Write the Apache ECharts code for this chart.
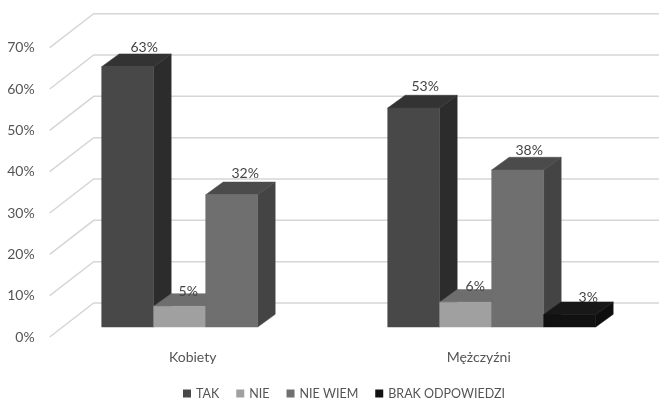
<!DOCTYPE html>
<html><head><meta charset="utf-8">
<style>html,body{margin:0;padding:0;background:#fff}#c{width:659px;height:399px;filter:blur(0.45px)}</style>
<script src="https://cdn.jsdelivr.net/npm/echarts@6/dist/echarts.min.js"></script>
</head><body><div id="c"></div>
<script>
const categories = ['Kobiety', 'Mężczyźni'];
const tickValues = [0, 10, 20, 30, 40, 50, 60, 70];
const tak = [63, 53];
const nie = [5, 6];
const nieWiem = [32, 38];
const brak = [null, 3];

const FONT = 'Lato';
const TEXT = '#555';
const WALL = [44, -34], PLANE = [13, -10], DEPTH = [17.5, -12.7];
const BAR_RATIO = 52 / 286;
const shades = [
  { name: 'TAK', values: tak, front: '#484848', top: '#333333', side: '#2c2c2c', nudge: [[16.5, -19.3], [11.5, -21.3]] },
  { name: 'NIE', values: nie, front: '#a0a0a0', top: '#6e6e6e', side: '#5a5a5a', nudge: [[8.5, -14.6], [9.5, -16.2]] },
  { name: 'NIE WIEM', values: nieWiem, front: '#6f6f6f', top: '#4b4b4b', side: '#444444', nudge: [[13.5, -21.7], [11.5, -19.3]] },
  { name: 'BRAK ODPOWIEDZI', values: brak, front: '#111111', top: '#181818', side: '#0e0e0e', nudge: [[0, 0], [18.5, -16.9]] }
];

function barRender(k) {
  return function (params, api) {
    const i = api.value(0), v = api.value(1);
    const base = api.coord([i, 0]);
    const head = api.coord([i, v]);
    const w = api.size([1, 0])[0] * BAR_RATIO;
    const x0 = base[0] + PLANE[0] - 2 * w + k * w, x1 = x0 + w;
    const yb = base[1] + PLANE[1], yt = head[1] + PLANE[1];
    const dx = DEPTH[0], dy = DEPTH[1];
    const s = shades[k];
    const poly = (pts, fill) => ({ type: 'polygon', shape: { points: pts }, style: { fill: fill, stroke: fill, lineWidth: 0.5 } });
    return {
      type: 'group',
      children: [
        poly([[x1, yb], [x1 + dx, yb + dy], [x1 + dx, yt + dy], [x1, yt]], s.side),
        poly([[x0, yt], [x0 + dx, yt + dy], [x1 + dx, yt + dy], [x1, yt]], s.top),
        poly([[x0, yb], [x1, yb], [x1, yt], [x0, yt]], s.front),
        { type: 'text', style: {
            text: v + '%', x: (x0 + x1) / 2 + s.nudge[i][0], y: yt + s.nudge[i][1],
            align: 'center', verticalAlign: 'middle',
            font: '14px ' + FONT, fill: '#444' } }
      ]
    };
  };
}

const chart = echarts.init(document.getElementById('c'), null, { renderer: 'canvas' });
chart.setOption({
  animation: false,
  grid: { left: 49.7, top: 47.7, width: 572, height: 289.3 },
  legend: {
    data: shades.map(s => s.name), left: 178, top: 382, itemWidth: 8, itemHeight: 8, itemGap: 17,
    icon: 'rect', textStyle: { fontFamily: FONT, fontSize: 12.5, color: TEXT }
  },
  xAxis: {
    type: 'category', data: categories,
    axisLine: { show: false }, axisTick: { show: false }, splitLine: { show: false },
    axisLabel: { fontFamily: FONT, fontSize: 14, color: TEXT, margin: 13 }
  },
  yAxis: {
    type: 'value', min: 0, max: 70, interval: 10,
    axisLine: { show: false }, axisTick: { show: false }, splitLine: { show: false },
    axisLabel: { fontFamily: FONT, fontSize: 14, color: TEXT, margin: 15, formatter: '{value}%' }
  },
  series: [
    {
      type: 'custom', silent: true, clip: false, z: 1,
      data: tickValues.map(t => [0, t]),
      renderItem(params, api) {
        const y = api.coord([0, api.value(1)])[1];
        const x = params.coordSys.x;
        return { type: 'polyline',
          shape: { points: [[x, y], [x + WALL[0], y + WALL[1]], [700, y + WALL[1]]] },
          style: { stroke: '#d6d6d6', lineWidth: 1.5, fill: null } };
      }
    }
  ].concat(shades.map((s, k) => ({
    name: s.name, type: 'custom', silent: true, clip: false, z: 2 + k,
    itemStyle: { color: s.front },
    data: s.values.map((v, i) => [i, v]).filter(d => d[1] !== null),
    renderItem: barRender(k)
  })))
});
</script></body></html>
